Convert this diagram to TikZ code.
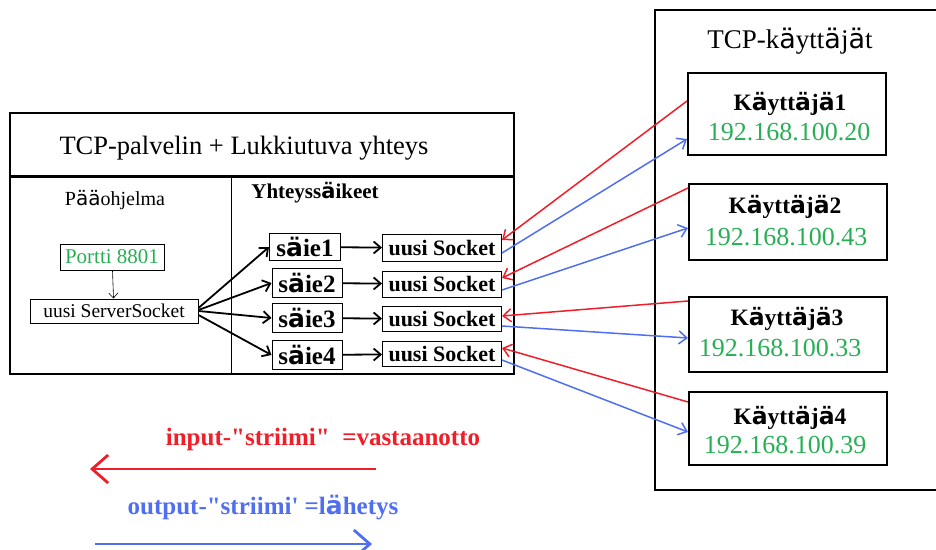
\documentclass[tikz,border=0pt]{standalone}
\usepackage{fontspec}
\setmainfont{Liberation Serif}
\newfontfamily\sansa{DejaVu Sans}
\usetikzlibrary{arrows.meta}
\definecolor{ipgreen}{RGB}{40,175,85}
\definecolor{inred}{RGB}{240,30,40}
\definecolor{outblue}{RGB}{80,110,240}
\newcommand{\uml}{{\sansa ä}}
\newcommand{\umlb}{{\sansa\bfseries ä}}
\newcommand{\fs}[1]{\fontsize{#1}{#1}\selectfont}
\begin{document}
\begin{tikzpicture}[x=1pt,y=-1pt,
  box/.style={draw,line width=1pt,inner sep=0pt},
  frame/.style={draw,line width=2pt},
  userbox/.style={draw,line width=2pt,inner sep=0pt,minimum width=198pt},
  conn/.style={-{Straight Barb[length=7pt,width=12pt]},line width=1.8pt},
  inarr/.style={-{Straight Barb[length=8pt,width=13pt]},draw=inred,line width=1.5pt},
  outarr/.style={-{Straight Barb[length=8pt,width=13pt]},draw=outblue,line width=1.5pt},
  lbl/.style={inner sep=0pt,anchor=base}]
\useasboundingbox (0,0) rectangle (936,549);
% left frame
\draw[frame] (10,113) rectangle (514,374);
\draw[line width=3pt] (10,176) -- (514,176);
\draw[line width=1pt] (231,176) -- (231,374);
\node[lbl] (title) at (244,154) {\fs{26.5}TCP-palvelin + Lukkiutuva yhteys};
\node[lbl] (paa) at (115,205) {\fs{20}P\uml\uml ohjelma};
\node[lbl] (yht) at (315,198) {\fs{21}\bfseries Yhteyss\umlb ikeet};
% main program
\node[box,minimum width=104pt,minimum height=26pt,text=ipgreen] (portti) at (112,257) {\fs{21}Portti 8801};
\node[box,minimum width=168pt,minimum height=24pt] (ss) at (114,311) {\fs{19.5}uusi ServerSocket};
% threads
\node[box,minimum width=71pt,minimum height=27pt] (s1) at (305,247) {\fs{25}\bfseries s\umlb ie1};
\node[box,minimum width=70pt,minimum height=29pt] (s2) at (307,283) {\fs{25}\bfseries s\umlb ie2};
\node[box,minimum width=70pt,minimum height=29pt] (s3) at (307,318) {\fs{25}\bfseries s\umlb ie3};
\node[box,minimum width=70pt,minimum height=29pt] (s4) at (307,355) {\fs{25}\bfseries s\umlb ie4};
\node[box,minimum width=119pt,minimum height=27pt] (k1) at (442,248) {\fs{22}\bfseries uusi Socket};
\node[box,minimum width=119pt,minimum height=26pt] (k2) at (442,284) {\fs{22}\bfseries uusi Socket};
\node[box,minimum width=119pt,minimum height=25pt] (k3) at (442,319) {\fs{22}\bfseries uusi Socket};
\node[box,minimum width=119pt,minimum height=25pt] (k4) at (442,354) {\fs{22}\bfseries uusi Socket};
\draw[-{Straight Barb[length=5pt,width=9pt]},line width=0.6pt] (portti) -- (ss);
\draw[conn] ([yshift=3pt]ss.east) -- (s1.west);
\draw[conn] ([yshift=1pt]ss.east) -- (s2.west);
\draw[conn] (ss.east) -- (s3.west);
\draw[conn] ([yshift=-4pt]ss.east) -- (s4.west);
\draw[conn] (s1) -- (k1);
\draw[conn] (s2) -- (k2);
\draw[conn] (s3) -- (k3);
\draw[conn] (s4) -- (k4);
% right frame
\draw[frame] (945,10) -- (655,10) -- (655,490) -- (945,490);
\node[lbl] (tcpk) at (790,48) {\fs{27}TCP-k\uml ytt\uml j\uml t};
\node[userbox,minimum height=82pt] (u1) at (787,114) {};
\node[userbox,minimum height=76pt] (u2) at (788,222) {};
\node[userbox,minimum height=75pt] (u3) at (788,334) {};
\node[userbox,minimum height=73pt] (u4) at (788,428) {};
\node[lbl] (n1) at (790,110) {\fs{23.5}\bfseries K\umlb ytt\umlb j\umlb 1};
\node[lbl,text=ipgreen] (i1) at (789,140) {\fs{26}192.168.100.20};
\node[lbl] (n2) at (785,213) {\fs{23.5}\bfseries K\umlb ytt\umlb j\umlb 2};
\node[lbl,text=ipgreen] (i2) at (786,245) {\fs{26}192.168.100.43};
\node[lbl] (n3) at (787,325) {\fs{23.5}\bfseries K\umlb ytt\umlb j\umlb 3};
\node[lbl,text=ipgreen] (i3) at (780,356) {\fs{26}192.168.100.33};
\node[lbl] (n4) at (790,424) {\fs{23.5}\bfseries K\umlb ytt\umlb j\umlb 4};
\node[lbl,text=ipgreen] (i4) at (785,453) {\fs{26}192.168.100.39};
% streams
\draw[inarr] ([yshift=13pt]u1.west) -- ([yshift=8pt]k1.east);
\draw[outarr] ([yshift=-5pt]k1.east) -- ([yshift=-25pt]u1.west);
\draw[inarr] ([yshift=34pt]u2.west) -- ([yshift=6pt]k2.east);
\draw[outarr] ([yshift=-6pt]k2.east) -- ([yshift=-6pt]u2.west);
\draw[inarr] ([yshift=33pt]u3.west) -- ([yshift=3pt]k3.east);
\draw[outarr] ([yshift=-7pt]k3.east) -- ([yshift=-4pt]u3.west);
\draw[inarr] ([yshift=26pt]u4.west) -- ([yshift=6pt]k4.east);
\draw[outarr] ([yshift=-6pt]k4.east) -- ([yshift=-4pt]u4.west);
% legend
\node[lbl,text=inred] (lin) at (323,445) {\fs{25}\bfseries input-\textquotedbl striimi\textquotedbl\ \ =vastaanotto};
\coordinate (lin1) at (376,469);
\coordinate (lin2) at (90,469);
\draw[-{Straight Barb[length=16pt,width=28pt]},draw=inred,line width=2.8pt] (lin1) -- (lin2);
\node[lbl,text=outblue] (lout) at (263,514) {\fs{25}\bfseries output-\textquotedbl striimi\textquotesingle\ =l\umlb hetys};
\coordinate (lout1) at (95,544);
\coordinate (lout2) at (372,544);
\draw[-{Straight Barb[length=16pt,width=28pt]},draw=outblue,line width=2.8pt] (lout1) -- (lout2);
\end{tikzpicture}
\end{document}
